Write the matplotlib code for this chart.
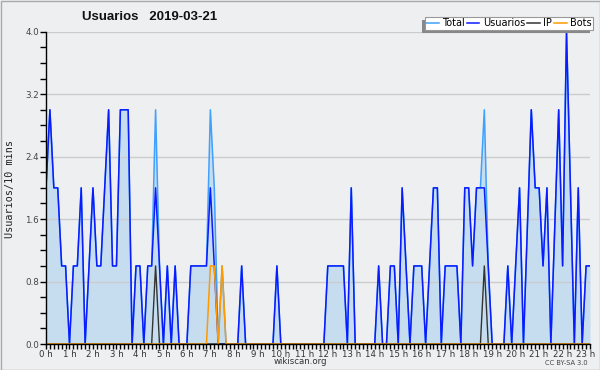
import matplotlib
matplotlib.use("Agg")
import matplotlib.pyplot as plt
from matplotlib.lines import Line2D
from matplotlib.patches import Rectangle
from matplotlib.ticker import MultipleLocator

# ---- data (one value per 10 minutes, 00:00 .. 23:10) ----
hour_labels = [f"{h} h" for h in range(24)]

usuarios = [2, 3, 2, 2, 1, 1, 0, 1, 1, 2,
            0, 1, 2, 1, 1, 2, 3, 1, 1, 3,
            3, 3, 0, 1, 1, 0, 1, 1, 2, 1,
            0, 1, 0, 1, 0, 0, 0, 1, 1, 1,
            1, 1, 2, 1, 0, 0, 0, 0, 0, 0,
            1, 0, 0, 0, 0, 0, 0, 0, 0, 1,
            0, 0, 0, 0, 0, 0, 0, 0, 0, 0,
            0, 0, 1, 1, 1, 1, 1, 0, 2, 0,
            0, 0, 0, 0, 0, 1, 0, 0, 1, 1,
            0, 2, 1, 0, 1, 1, 1, 0, 1, 2,
            2, 0, 1, 1, 1, 1, 0, 2, 2, 1,
            2, 2, 2, 1, 0, 0, 0, 0, 1, 0,
            1, 2, 0, 1.5, 3, 2, 2, 1, 2, 0,
            1.5, 3, 1, 4, 2, 0, 2, 0, 1, 1]

total = [2, 3, 2, 2, 1, 1, 0, 1, 1, 2,
         0, 1, 2, 1, 1, 2, 3, 1, 1, 3,
         3, 3, 0, 1, 1, 0, 1, 1, 3, 1,
         0, 1, 0, 1, 0, 0, 0, 1, 1, 1,
         1, 1, 3, 2, 0, 1, 0, 0, 0, 0,
         1, 0, 0, 0, 0, 0, 0, 0, 0, 1,
         0, 0, 0, 0, 0, 0, 0, 0, 0, 0,
         0, 0, 1, 1, 1, 1, 1, 0, 2, 0,
         0, 0, 0, 0, 0, 1, 0, 0, 1, 1,
         0, 2, 1, 0, 1, 1, 1, 0, 1, 2,
         2, 0, 1, 1, 1, 1, 0, 2, 2, 1,
         2, 2, 3, 1, 0, 0, 0, 0, 1, 0,
         1, 2, 0, 1.5, 3, 2, 2, 1, 2, 0,
         1.5, 3, 1, 4, 2, 0, 2, 0, 1, 1]

ip = [0, 0, 0, 0, 0, 0, 0, 0, 0, 0,
      0, 0, 0, 0, 0, 0, 0, 0, 0, 0,
      0, 0, 0, 0, 0, 0, 0, 0, 1, 0,
      0, 0, 0, 0, 0, 0, 0, 0, 0, 0,
      0, 0, 0, 0, 0, 0, 0, 0, 0, 0,
      0, 0, 0, 0, 0, 0, 0, 0, 0, 0,
      0, 0, 0, 0, 0, 0, 0, 0, 0, 0,
      0, 0, 0, 0, 0, 0, 0, 0, 0, 0,
      0, 0, 0, 0, 0, 0, 0, 0, 0, 0,
      0, 0, 0, 0, 0, 0, 0, 0, 0, 0,
      0, 0, 0, 0, 0, 0, 0, 0, 0, 0,
      0, 0, 1, 0, 0, 0, 0, 0, 0, 0,
      0, 0, 0, 0, 0, 0, 0, 0, 0, 0,
      0, 0, 0, 0, 0, 0, 0, 0, 0, 0]

bots = [0, 0, 0, 0, 0, 0, 0, 0, 0, 0,
        0, 0, 0, 0, 0, 0, 0, 0, 0, 0,
        0, 0, 0, 0, 0, 0, 0, 0, 0, 0,
        0, 0, 0, 0, 0, 0, 0, 0, 0, 0,
        0, 0, 1, 1, 0, 1, 0, 0, 0, 0,
        0, 0, 0, 0, 0, 0, 0, 0, 0, 0,
        0, 0, 0, 0, 0, 0, 0, 0, 0, 0,
        0, 0, 0, 0, 0, 0, 0, 0, 0, 0,
        0, 0, 0, 0, 0, 0, 0, 0, 0, 0,
        0, 0, 0, 0, 0, 0, 0, 0, 0, 0,
        0, 0, 0, 0, 0, 0, 0, 0, 0, 0,
        0, 0, 0, 0, 0, 0, 0, 0, 0, 0,
        0, 0, 0, 0, 0, 0, 0, 0, 0, 0,
        0, 0, 0, 0, 0, 0, 0, 0, 0, 0]

series_names = ["Total", "Usuarios", "IP", "Bots"]
y_ticks = [0.0, 0.8, 1.6, 2.4, 3.2, 4.0]

# ---- style ----
BG = "#eeeff1"
C_TOTAL = "#3ea0ff"
C_USU = "#0a1cff"
C_IP = "#333333"
C_BOTS = "#ff9a00"
C_FILL = "#c6ddf0"

W, H = 600, 370
fig = plt.figure(figsize=(W / 100, H / 100), dpi=100, facecolor=BG)
ax = fig.add_axes([46 / W, (H - 344) / H, (590 - 46) / W, (344 - 31.7) / H])
ax.set_facecolor(BG)

x = list(range(len(usuarios)))
ax.fill_between(x, 0, total, color=C_FILL, lw=0, zorder=1)
ax.plot(x, total, color=C_TOTAL, lw=1.1, zorder=3)
ax.plot(x, usuarios, color=C_USU, lw=1.1, zorder=4)
ax.plot(x, ip, color=C_IP, lw=1.0, zorder=5)
ax.plot(x, bots, color=C_BOTS, lw=1.1, zorder=6)

ax.set_xlim(0, len(usuarios) - 1)
ax.set_ylim(0, 4.0)

for s in ["top", "right"]:
    ax.spines[s].set_visible(False)
for s in ["left", "bottom"]:
    ax.spines[s].set_color("black")
    ax.spines[s].set_linewidth(1.0)
    ax.spines[s].set_zorder(10)

ax.set_yticks(y_ticks)
ax.set_yticklabels([f"{v:.1f}" for v in y_ticks], fontsize=6.3, color="#444444")
ax.yaxis.set_minor_locator(MultipleLocator(0.2))
ax.tick_params(axis="y", which="both", direction="out", length=4, width=1, pad=1)
ax.grid(axis="y", color="#cccccc", lw=1.0, zorder=0)

hour_pos = [6 * h for h in range(24)]
ax.set_xticks(hour_pos)
ax.set_xticklabels(hour_labels, fontsize=6.2, color="#333333")
ax.xaxis.set_minor_locator(MultipleLocator(1))
ax.tick_params(axis="x", which="both", direction="out", length=3.5, width=1, pad=0.5)

fig.text(10 / W, 1 - 189 / H, "Usuarios/10 mins", rotation=90, ha="center",
         va="center", family="DejaVu Sans Mono", fontsize=7.3, color="#222222")

fig.text(150 / W, 1 - 17 / H, "Usuarios   2019-03-21", ha="center", va="center",
         fontsize=9.5, fontweight="bold", family="Liberation Sans", color="#111111")
fig.text(300 / W, 1 - 362 / H, "wikiscan.org", ha="center", va="center",
         fontsize=6.2, color="#333333")
fig.text(588 / W, 1 - 363 / H, "CC BY-SA 3.0", ha="right", va="center",
         fontsize=4.8, color="#444444")

handles = [Line2D([], [], color=c, lw=1.1) for c in (C_TOTAL, C_USU, C_IP, C_BOTS)]
leg = fig.legend(handles, series_names, loc="upper right",
                 bbox_to_anchor=(593 / W, 1 - 17 / H), ncol=4, fontsize=7,
                 frameon=True, fancybox=False, framealpha=1, edgecolor="#999999",
                 handlelength=1.3, handletextpad=0.35, columnspacing=0.2,
                 borderpad=0.15, borderaxespad=0)
leg.get_frame().set_facecolor("white")
leg.get_frame().set_linewidth(0.8)
leg.set_zorder(20)

fig.canvas.draw()
bb = leg.get_window_extent().transformed(fig.transFigure.inverted())
sh = Rectangle((bb.x0 - 3 / W, bb.y0 - 3 / H), bb.width, bb.height,
               transform=fig.transFigure, facecolor="#888888", edgecolor="none", zorder=19)
fig.patches.append(sh)

fig.patches.append(Rectangle((0.5 / W, 0.5 / H), 1 - 1 / W, 1 - 1 / H,
                             transform=fig.transFigure, facecolor="none",
                             edgecolor="#aaaaaa", lw=1.0))

fig.savefig("out.png", dpi=100, facecolor=BG)
